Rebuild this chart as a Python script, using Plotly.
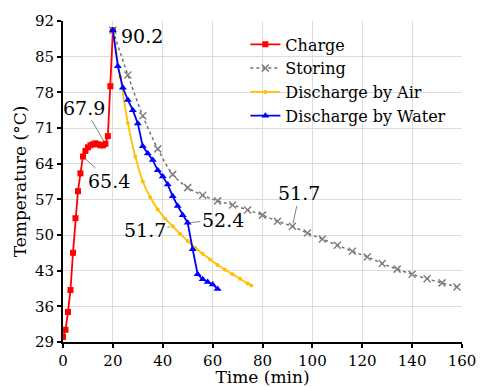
import plotly.graph_objects as go

# ---- data ----
charge_x = list(range(0, 21))
charge_y = [30.0, 31.4, 34.9, 39.2, 46.5, 53.3, 58.6, 62.1, 65.4, 66.5, 67.2,
            67.6, 67.8, 68.0, 67.8, 67.6, 67.6, 67.9, 69.4, 79.2, 90.2]

storing_x = [20, 26, 32, 38, 44, 50, 56, 62, 68, 74, 80, 86, 92, 98, 104, 110,
             116, 122, 128, 134, 140, 146, 152, 158]
storing_y = [90.2, 81.4, 73.4, 66.9, 61.9, 59.3, 57.8, 56.7, 55.9, 54.9, 53.9,
             52.7, 51.7, 50.4, 49.2, 48.0, 46.8, 45.7, 44.4, 43.3, 42.3, 41.4,
             40.6, 39.8]

air_x = [20, 23, 26, 29, 32, 35, 38, 41, 44, 47, 50, 53, 56, 59, 62, 65, 68,
         71, 74, 75.5]
air_y = [90.2, 81.0, 72.0, 65.4, 60.5, 57.4, 55.0, 53.2, 51.7, 50.2, 48.8,
         47.5, 46.3, 45.2, 44.1, 43.2, 42.3, 41.4, 40.5, 40.1]

water_x = list(range(20, 63, 2))
water_y = [90.2, 83.1, 78.9, 76.5, 74.5, 71.9, 67.4, 66.0, 64.7, 62.7, 61.5,
           59.9, 57.6, 55.7, 53.9, 52.4, 47.2, 42.3, 41.3, 40.8, 40.3, 39.4]

y_ticks = [29, 36, 43, 50, 57, 64, 71, 78, 85, 92]
x_ticks = list(range(0, 161, 20))

FONT = "DejaVu Serif"

fig = go.Figure()
fig.add_trace(go.Scatter(x=charge_x, y=charge_y, name="Charge", mode="lines+markers",
                         line=dict(color="#ff0000", width=1.8),
                         marker=dict(symbol="square", size=6, color="#ff0000")))
fig.add_trace(go.Scatter(x=storing_x, y=storing_y, name="Storing", mode="lines+markers",
                         line=dict(color="#707070", width=1.5, dash="dot", shape="spline"),
                         marker=dict(symbol="x-thin", size=7, color="#808080",
                                     line=dict(color="#808080", width=1.5))))
fig.add_trace(go.Scatter(x=air_x, y=air_y, name="Discharge by Air", mode="lines+markers",
                         line=dict(color="#ffc000", width=1.8, shape="spline"),
                         marker=dict(symbol="circle", size=4, color="#ffc000")))
fig.add_trace(go.Scatter(x=water_x, y=water_y, name="Discharge by Water", mode="lines+markers",
                         line=dict(color="#0000ff", width=1.8),
                         marker=dict(symbol="triangle-up", size=7, color="#0000ff")))

ann_font = dict(family=FONT, size=19, color="black")
arrow = dict(showarrow=True, arrowhead=0, arrowwidth=1, arrowcolor="#808080",
             standoff=3, font=ann_font, xref="x", yref="y")
anns = [
    dict(x=charge_x[-1], y=charge_y[-1], text=f"{charge_y[-1]:.1f}", showarrow=False,
         xanchor="left", xshift=6, yshift=-6, font=ann_font, xref="x", yref="y"),
    dict(x=charge_x[17], y=charge_y[17], text=f"{charge_y[17]:.1f}", ax=-21, ay=-36, **arrow),
    dict(x=charge_x[8], y=charge_y[8], text=f"{charge_y[8]:.1f}", ax=26, ay=24, **arrow),
    dict(x=air_x[8], y=air_y[8], text=f"{air_y[8]:.1f}", ax=-28, ay=4, **arrow),
    dict(x=water_x[15], y=water_y[15], text=f"{water_y[15]:.1f}", ax=35, ay=-3, **arrow),
    dict(x=storing_x[12], y=storing_y[12], text=f"{storing_y[12]:.1f}", ax=7, ay=-33, **arrow),
]

axis_common = dict(showline=True, linecolor="black", linewidth=2, ticks="outside",
                   ticklen=4, tickwidth=1.5, tickcolor="black", showgrid=True,
                   gridcolor="#dcdcdc", gridwidth=1, zeroline=False, automargin=False,
                   tickfont=dict(family=FONT, size=15, color="black"))
fig.update_xaxes(range=[0, 160], tickvals=x_ticks,
                 title=dict(text="Time (min)", font=dict(family=FONT, size=17, color="black"),
                            standoff=2), **axis_common)
fig.update_yaxes(range=[29, 92], tickvals=y_ticks,
                 title=dict(text="Temperature (°C)", font=dict(family=FONT, size=17, color="black"),
                            standoff=4), **axis_common)

fig.update_layout(
    annotations=anns,
    width=481, height=387,
    margin=dict(l=63, r=19, t=21, b=45),
    paper_bgcolor="white", plot_bgcolor="white",
    font=dict(family=FONT, size=16, color="black"),
    legend=dict(x=0.457, y=0.98, xanchor="left", yanchor="top",
                bgcolor="rgba(255,255,255,0)", font=dict(family=FONT, size=16, color="black"),
                tracegroupgap=0),
)

fig.write_html("out.html")
